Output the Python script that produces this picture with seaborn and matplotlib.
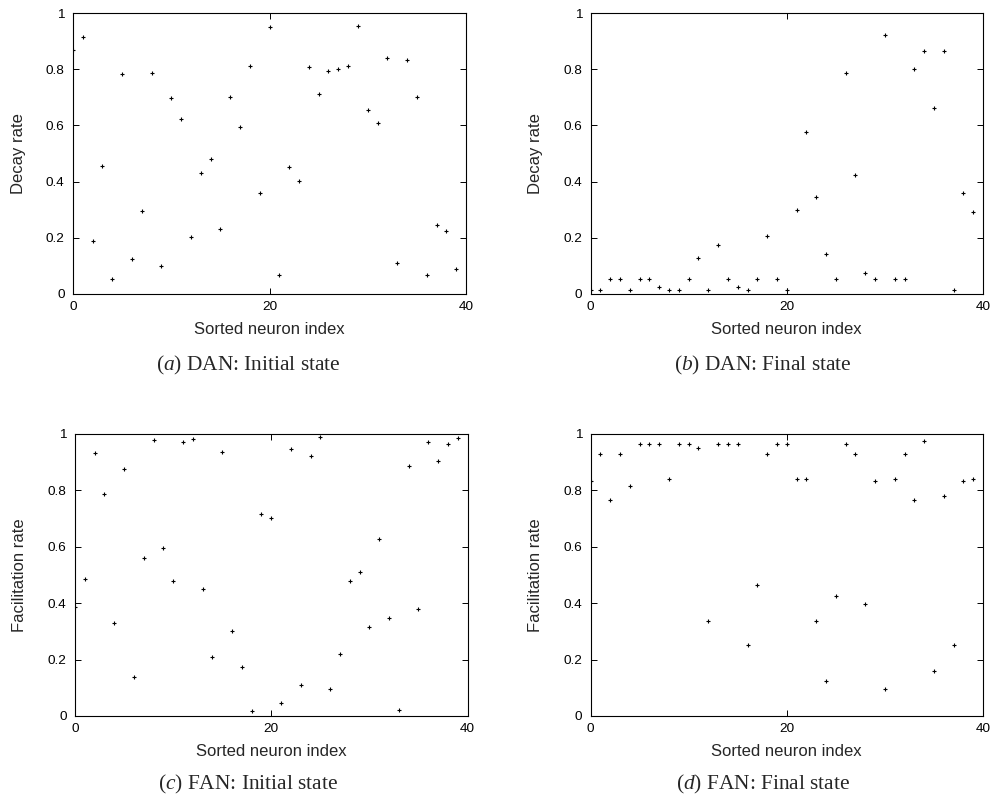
import numpy as np
import pandas as pd
import matplotlib.pyplot as plt
from matplotlib.ticker import FuncFormatter
import seaborn as sns

# values, one per sorted neuron (0..39)
dan_initial = [0.870, 0.915, 0.187, 0.454, 0.052, 0.782, 0.123, 0.297, 0.786, 0.099,
               0.698, 0.622, 0.204, 0.432, 0.482, 0.233, 0.701, 0.596, 0.813, 0.359,
               0.951, 0.069, 0.453, 0.402, 0.809, 0.711, 0.795, 0.800, 0.812, 0.953,
               0.654, 0.608, 0.839, 0.110, 0.833, 0.701, 0.066, 0.246, 0.224, 0.088]
dan_final = [0.015, 0.015, 0.054, 0.054, 0.015, 0.054, 0.054, 0.025, 0.015, 0.015,
             0.054, 0.127, 0.015, 0.173, 0.054, 0.024, 0.015, 0.054, 0.207, 0.054,
             0.015, 0.299, 0.575, 0.344, 0.142, 0.054, 0.787, 0.424, 0.075, 0.054,
             0.921, 0.054, 0.054, 0.800, 0.865, 0.662, 0.864, 0.015, 0.360, 0.291]
fan_initial = [0.387, 0.485, 0.933, 0.788, 0.329, 0.875, 0.138, 0.562, 0.978, 0.595,
               0.479, 0.972, 0.981, 0.450, 0.209, 0.935, 0.303, 0.172, 0.017, 0.717,
               0.702, 0.046, 0.946, 0.111, 0.923, 0.991, 0.096, 0.219, 0.479, 0.509,
               0.316, 0.628, 0.348, 0.022, 0.885, 0.380, 0.970, 0.905, 0.964, 0.987]
fan_final = [0.833, 0.928, 0.767, 0.928, 0.817, 0.966, 0.966, 0.966, 0.839, 0.966,
             0.966, 0.950, 0.336, 0.966, 0.966, 0.966, 0.251, 0.464, 0.928, 0.966,
             0.966, 0.839, 0.839, 0.338, 0.124, 0.427, 0.966, 0.928, 0.396, 0.832,
             0.096, 0.841, 0.928, 0.767, 0.974, 0.159, 0.781, 0.251, 0.832, 0.839]
neuron_index = list(range(40))

captions = ["DAN: Initial state", "DAN: Final state", "FAN: Initial state", "FAN: Final state"]
letters = ["a", "b", "c", "d"]
ylabels = ["Decay rate", "Decay rate", "Facilitation rate", "Facilitation rate"]

sns.set_theme(style="ticks")
plt.rcParams["font.family"] = ["Liberation Sans", "DejaVu Sans"]
plt.rcParams["mathtext.fontset"] = "custom"
plt.rcParams["mathtext.rm"] = "Liberation Serif"
plt.rcParams["mathtext.it"] = "Liberation Serif:italic"

W, H = 993, 798
fig = plt.figure(figsize=(W / 100, H / 100), dpi=100)
fig.patch.set_facecolor("white")

# axes boxes in pixels: left, top, right, bottom
boxes = [(73, 13, 466, 294), (590.5, 13, 983, 294),
         (75, 434, 467.5, 716), (590.5, 434, 983, 716)]
cap_pos = [(248, 365), (763, 365), (248, 784), (763, 784)]

for i, values in enumerate([dan_initial, dan_final, fan_initial, fan_final]):
    l, t, r, b = boxes[i]
    ax = fig.add_axes([l / W, 1 - b / H, (r - l) / W, (b - t) / H])
    df = pd.DataFrame({"idx": neuron_index, "val": values})
    sns.scatterplot(data=df, x="idx", y="val", marker="+", color="black",
                    s=12, linewidth=0.8, ax=ax)
    ax.set_xlim(0, 40)
    ax.set_ylim(0, 1)
    ax.set_xticks([0, 20, 40])
    ax.set_yticks([0, 0.2, 0.4, 0.6, 0.8, 1.0])
    ax.yaxis.set_major_formatter(FuncFormatter(lambda v, p: "%g" % v))
    ax.tick_params(direction="in", top=True, right=True, length=4, width=0.7,
                   labelsize=9.7, colors="black")
    ax.tick_params(axis="x", pad=5)
    ax.tick_params(axis="y", pad=6)
    for sp in ax.spines.values():
        sp.set_visible(True)
        sp.set_color("black")
        sp.set_linewidth(0.8)
    ax.set_xlabel("Sorted neuron index", fontsize=12, va="center")
    ax.xaxis.set_label_coords(0.5, -35 / (b - t))
    ax.set_ylabel(ylabels[i], fontsize=12, va="center")
    ax.yaxis.set_label_coords(-55 / (r - l), 0.5)
    cx, cy = cap_pos[i]
    fig.text(cx / W, 1 - cy / H, "($\\mathit{%s}$) %s" % (letters[i], captions[i]),
             ha="center", va="center", fontsize=15.4, family="Liberation Serif")

fig.savefig("out.png", dpi=100)
